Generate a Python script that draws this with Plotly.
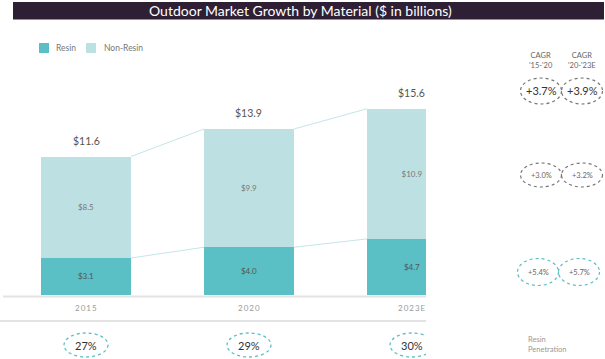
import plotly.graph_objects as go

W, H = 605, 359

years = ["2015", "2020", "2023E"]
resin = [3.1, 4.0, 4.7]
non_resin = [8.5, 9.9, 10.9]
totals = [11.6, 13.9, 15.6]
penetration = ["27%", "29%", "30%"]
cagr_headers = ["CAGR<br>'15-'20", "CAGR<br>'20-'23E"]
cagr_total = ["+3.7%", "+3.9%"]
cagr_non_resin = ["+3.0%", "+3.2%"]
cagr_resin = ["+5.4%", "+5.7%"]
series_names = ["Resin", "Non-Resin"]

RESIN = "#5bbfc6"
NONRESIN = "#bde1e3"
CONNECT = "#c6e5e8"
FONT = "Lato"

def px(x):
    return x / W

def py(y):
    return 1 - y / H

def ann(**kw):
    d = dict(showarrow=False, xanchor="center", yanchor="middle")
    d.update(kw)
    return d

xs = list(range(len(years)))
bw = 0.552

fig = go.Figure()
fig.add_trace(go.Bar(
    x=xs, y=resin, name=series_names[0], marker=dict(color=RESIN, line=dict(width=0)),
    width=bw, texttemplate="$%{y:.1f}", textposition="inside",
    insidetextanchor="middle", textfont=dict(size=8, color="#555", family=FONT),
    hoverinfo="skip", showlegend=False))
fig.add_trace(go.Bar(
    x=xs, y=non_resin, name=series_names[1], marker=dict(color=NONRESIN, line=dict(width=0)),
    width=bw, texttemplate="$%{y:.1f}", textposition="inside",
    insidetextanchor="middle", textfont=dict(size=8, color="#777", family=FONT),
    hoverinfo="skip", showlegend=False))

# connector lines between bars
for series in (totals, resin):
    for i in range(len(xs) - 1):
        fig.add_trace(go.Scatter(
            x=[xs[i] + bw / 2, xs[i + 1] - bw / 2], y=[series[i], series[i + 1]],
            mode="lines", line=dict(color=CONNECT, width=1), showlegend=False,
            hoverinfo="skip"))

annotations = []
shapes = []

# title bar
shapes.append(dict(type="rect", xref="paper", yref="paper", x0=px(13), x1=px(604),
                   y0=py(19.5), y1=py(2), fillcolor="#2e1f34", line=dict(width=0), layer="below"))
annotations.append(ann(xref="paper", yref="paper", x=px(300), y=py(11),
                       text="Outdoor Market Growth by Material ($ in billions)",
                       font=dict(size=14, color="white", family=FONT)))

# legend (manual)
leg = [(39, 54, RESIN), (86, 102, NONRESIN)]
for (sx, tx, col), name in zip(leg, series_names):
    shapes.append(dict(type="rect", xref="paper", yref="paper", x0=px(sx), x1=px(sx + 10),
                       y0=py(53), y1=py(43), fillcolor=col, line=dict(width=0)))
    annotations.append(ann(xref="paper", yref="paper", x=px(tx), y=py(48), xanchor="left",
                           text=name, font=dict(size=8.5, color="#777", family=FONT)))

# total labels
for i, t in enumerate(totals):
    annotations.append(ann(x=xs[i], y=t, xref="x", yref="y", yshift=16,
                           text=f"${t:.1f}", font=dict(size=10.5, color="#555", family=FONT)))

# year labels
for i, yr in enumerate(years):
    annotations.append(ann(x=xs[i], xref="x", yref="paper", y=py(307.5),
                           text="\u2009".join(yr), font=dict(size=8, color="#999", family=FONT)))

# baseline & separator
shapes.append(dict(type="line", xref="paper", yref="paper", x0=px(3), x1=px(426),
                   y0=py(296.5), y1=py(296.5), line=dict(color="#e3e3e3", width=2)))
shapes.append(dict(type="line", xref="paper", yref="paper", x0=px(0), x1=px(426),
                   y0=py(321), y1=py(321), line=dict(color="#e3e3e3", width=2)))

# resin penetration ellipses
for i, p in enumerate(penetration):
    shapes.append(dict(type="circle", xref="x", yref="paper", xsizemode="pixel",
                       xanchor=xs[i], x0=-22, x1=22, y0=py(357), y1=py(333),
                       line=dict(color=RESIN, width=1.3, dash="dot")))
    annotations.append(ann(x=xs[i], xref="x", yref="paper", y=py(345),
                           text=p, font=dict(size=11, color="#333", family=FONT)))
annotations.append(ann(xref="paper", yref="paper", x=px(526), y=py(344.5), xanchor="left",
                       align="left", text="Resin<br>Penetration",
                       font=dict(size=7.5, color="#999", family=FONT)))

# CAGR columns
col_x = [541, 582]
for j in range(2):
    annotations.append(ann(xref="paper", yref="paper", x=px(col_x[j]), y=py(61),
                           text=cagr_headers[j], font=dict(size=7.5, color="#666", family=FONT)))
rows = [
    (cagr_total, 91, 26, 0, "#777", 11, "#333"),
    (cagr_non_resin, 175, 24, 0, "#777", 7.5, "#666"),
    (cagr_resin, 272, 27, -3, RESIN, 7.5, "#666"),
]
for vals, cy, h, dx, lc, fs, fc in rows:
    for j in range(2):
        cx = col_x[j] + dx
        shapes.append(dict(type="circle", xref="paper", yref="paper",
                           x0=px(cx - 20.5), x1=px(cx + 20.5), y0=py(cy + h / 2), y1=py(cy - h / 2),
                           line=dict(color=lc, width=1.2, dash="dot")))
        annotations.append(ann(xref="paper", yref="paper", x=px(cx), y=py(cy),
                               text=vals[j], font=dict(size=fs, color=fc, family=FONT)))

fig.update_layout(
    width=W, height=H, margin=dict(l=0, r=0, t=0, b=0),
    paper_bgcolor="white", plot_bgcolor="white", barmode="stack",
    font=dict(family=FONT), showlegend=False,
    xaxis=dict(domain=[px(5), px(426)], range=[-0.497, 2.086], visible=False, fixedrange=True),
    yaxis=dict(domain=[py(295), py(60)], range=[0, 235 / 11.94], visible=False, fixedrange=True),
    annotations=annotations, shapes=shapes,
)
fig.write_html("out.html", config={"displayModeBar": False},
               post_script="document.body.style.margin='0';document.body.style.overflow='hidden';")
